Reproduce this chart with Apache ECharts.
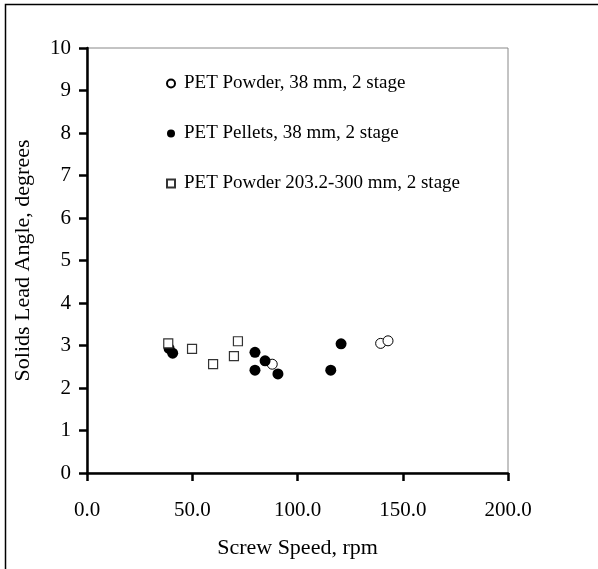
<!DOCTYPE html>
<html>
<head>
<meta charset="utf-8">
<script src="https://cdn.jsdelivr.net/npm/echarts@6/dist/echarts.min.js"></script>
<style>
html,body{margin:0;padding:0;background:#fff;}
#c{width:598px;height:569px;}
</style>
</head>
<body>
<div id="c"></div>
<script>
const seriesNames = ['PET Powder, 38 mm, 2 stage', 'PET Pellets, 38 mm, 2 stage', 'PET Powder 203.2-300 mm, 2 stage'];
const powder38 = [[88.0, 2.56], [139.5, 3.05], [143.0, 3.11]];
const pellets38 = [[39.0, 2.93], [40.7, 2.82], [79.8, 2.84], [79.8, 2.42], [84.6, 2.64], [90.7, 2.33], [115.8, 2.42], [120.7, 3.04]];
const powderLarge = [[38.6, 3.05], [49.9, 2.92], [59.9, 2.56], [69.8, 2.75], [71.7, 3.10]];
const xTitle = 'Screw Speed, rpm';
const yTitle = 'Solids Lead Angle, degrees';

const FONT = '"Liberation Serif", "Times New Roman", serif';
const chart = echarts.init(document.getElementById('c'), null, {renderer: 'canvas'});
chart.setOption({
  animation: false,
  backgroundColor: '#fff',
  graphic: [{
    type: 'polyline', silent: true,
    shape: {points: [[5.5, 700], [5.5, 4.5], [700, 4.5]]},
    style: {stroke: '#000', lineWidth: 1.5, fill: null}
  }],
  grid: {left: 87, right: 90, top: 48, bottom: 96, show: true, borderColor: '#888', borderWidth: 1, backgroundColor: 'transparent'},
  legend: {
    orient: 'vertical', left: 166, top: 74, padding: 0, itemGap: 31, itemWidth: 8, itemHeight: 8,
    textStyle: {fontFamily: FONT, fontSize: 19, color: '#000', padding: [0, 0, 0, 4]},
    data: seriesNames
  },
  xAxis: {
    type: 'value', min: 0, max: 200, interval: 50,
    name: xTitle, nameLocation: 'middle', nameGap: 64,
    nameTextStyle: {fontFamily: FONT, fontSize: 22, color: '#000'},
    axisLine: {show: true, lineStyle: {color: '#000', width: 2.5}},
    axisTick: {show: true, length: 8, lineStyle: {color: '#000', width: 2.5}},
    axisLabel: {fontFamily: FONT, fontSize: 21, color: '#000', margin: 27, formatter: v => v.toFixed(1)},
    splitLine: {show: false}
  },
  yAxis: {
    type: 'value', min: 0, max: 10, interval: 1,
    name: yTitle, nameLocation: 'middle', nameGap: 53,
    nameTextStyle: {fontFamily: FONT, fontSize: 22, color: '#000'},
    axisLine: {show: true, lineStyle: {color: '#000', width: 2.5}},
    axisTick: {show: true, length: 8, lineStyle: {color: '#000', width: 2.5}},
    axisLabel: {fontFamily: FONT, fontSize: 21, color: '#000', margin: 16},
    splitLine: {show: false}
  },
  series: [
    {name: seriesNames[0], type: 'scatter', data: powder38, symbol: 'circle', symbolSize: 10,
     itemStyle: {color: '#fff', borderColor: '#000', borderWidth: 1, opacity: 1}},
    {name: seriesNames[1], type: 'scatter', data: pellets38, symbol: 'circle', symbolSize: 11,
     itemStyle: {color: '#000', borderColor: '#000', borderWidth: 0, opacity: 1}},
    {name: seriesNames[2], type: 'scatter', data: powderLarge, symbol: 'rect', symbolSize: 9,
     itemStyle: {color: '#fff', borderColor: '#333', borderWidth: 1.2, opacity: 1}}
  ]
});
</script>
</body>
</html>
